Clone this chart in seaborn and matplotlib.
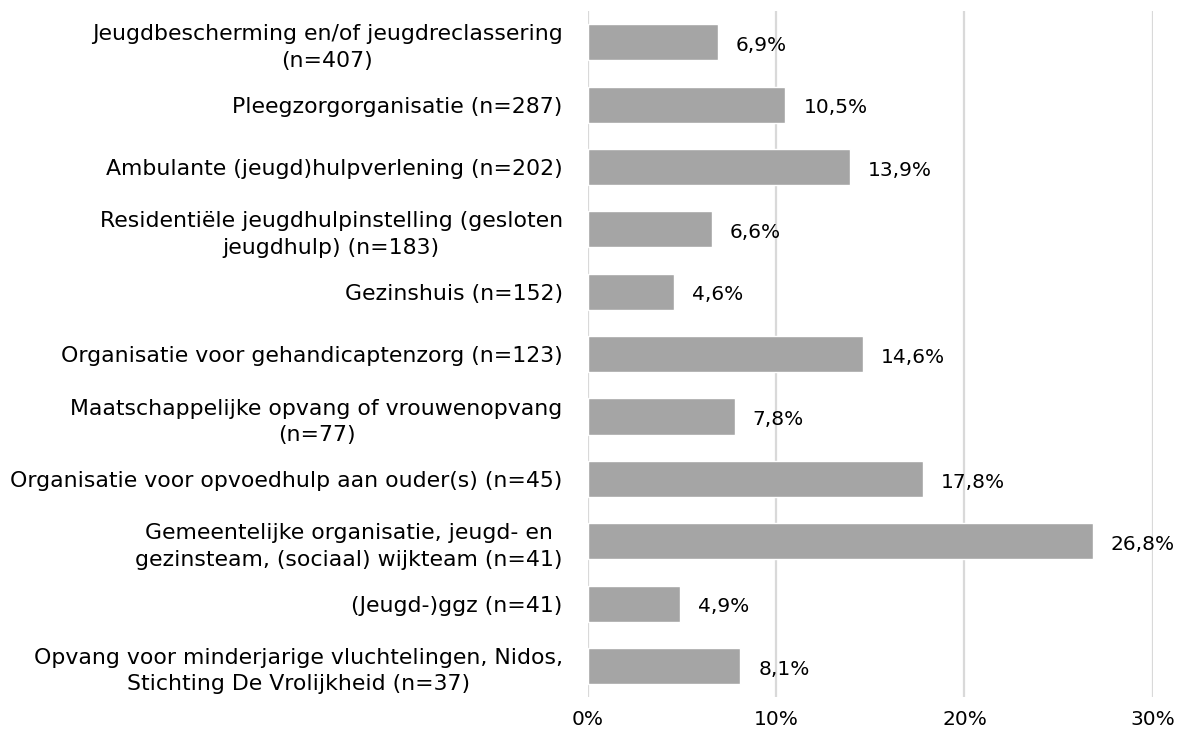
import matplotlib
matplotlib.use("Agg")
import matplotlib.pyplot as plt
import pandas as pd
import seaborn as sns

categories = [
    "Jeugdbescherming en/of jeugdreclassering\n(n=407)",
    "Pleegzorgorganisatie (n=287)",
    "Ambulante (jeugd)hulpverlening (n=202)",
    "Residentiële jeugdhulpinstelling (gesloten\njeugdhulp) (n=183)",
    "Gezinshuis (n=152)",
    "Organisatie voor gehandicaptenzorg (n=123)",
    "Maatschappelijke opvang of vrouwenopvang\n(n=77)",
    "Organisatie voor opvoedhulp aan ouder(s) (n=45)",
    "Gemeentelijke organisatie, jeugd- en\ngezinsteam, (sociaal) wijkteam (n=41)",
    "(Jeugd-)ggz (n=41)",
    "Opvang voor minderjarige vluchtelingen, Nidos,\nStichting De Vrolijkheid (n=37)",
]
values = [6.9, 10.5, 13.9, 6.6, 4.6, 14.6, 7.8, 17.8, 26.8, 4.9, 8.1]
xticks = [0, 10, 20, 30]

df = pd.DataFrame({"categorie": categories, "pct": values})

sns.set_style("white")
plt.rcParams["font.family"] = ["DejaVu Sans"]

fig = plt.figure(figsize=(11.8, 7.37), dpi=100)
ax = fig.add_axes([0.498, 0.054, 0.479, 0.931])

sns.barplot(data=df, x="pct", y="categorie", orient="h", color="#a5a5a5",
            width=0.58, saturation=1, ax=ax, zorder=3)

ax.set_xlim(0, 30)
ax.set_xticks(xticks)
ax.set_xticklabels([f"{t}%" for t in xticks], fontsize=14.5, color="black")
ax.set_xlabel("")
ax.set_ylabel("")
ax.grid(axis="x", color="#d9d9d9", linewidth=1.6, zorder=0)
for s in ax.spines.values():
    s.set_visible(False)
ax.tick_params(axis="both", length=0)
ax.tick_params(axis="x", pad=9)
ax.tick_params(axis="y", pad=18)
for lbl in ax.get_yticklabels():
    lbl.set_fontsize(15.8)
    lbl.set_color("black")
    lbl.set_multialignment("center")
    lbl.set_linespacing(1.4)

for i, v in enumerate(values):
    ax.text(v + 0.95, i + 0.05, f"{v:.1f}%".replace(".", ","), va="center",
            ha="left", fontsize=14.5, color="black")

fig.savefig("out.png", dpi=100)
